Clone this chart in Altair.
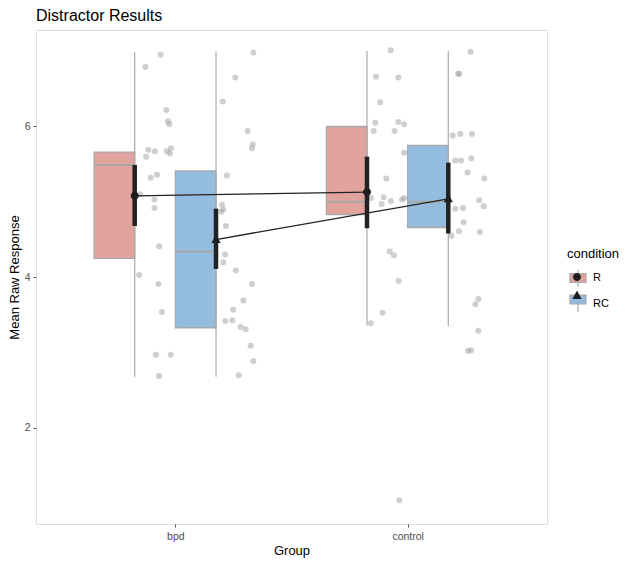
import json
import altair as alt
import pandas as pd

# ---------------- data ----------------
groups = ["bpd", "control"]
conditions = ["R", "RC"]

box_group = ["bpd", "bpd", "control", "control"]
box_cond = ["R", "RC", "R", "RC"]
box_q1 = [4.25, 3.33, 4.83, 4.66]
box_median = [5.49, 4.34, 5.00, 5.00]
box_q3 = [5.66, 5.41, 6.00, 5.75]
whisker_lo = [2.68, 2.68, 3.36, 3.35]
whisker_hi = [6.99, 6.99, 7.00, 7.00]
mean_val = [5.08, 4.50, 5.13, 5.04]
ci_lo = [4.68, 4.11, 4.65, 4.58]
ci_hi = [5.49, 4.91, 5.60, 5.52]

# raw responses (jittered points) and their horizontal jitter
bpd_R = [6.95, 6.79, 6.22, 6.07, 6.03, 5.69, 5.67, 5.60, 5.67, 5.71, 5.64, 5.36,
         5.32, 5.10, 5.03, 4.92, 4.41, 4.03, 3.91, 3.54, 2.97, 2.97, 2.69]
bpd_R_jit = [0.111, 0.046, 0.136, 0.143, 0.149, 0.059, 0.087, 0.049, 0.138, 0.156,
             0.152, 0.096, 0.069, 0.023, 0.085, 0.085, 0.105, 0.019, 0.102, 0.117,
             0.091, 0.155, 0.105]
bpd_RC = [6.98, 6.65, 6.33, 5.94, 5.76, 5.71, 5.35, 4.96, 4.90, 4.87, 4.68, 4.30,
          4.20, 4.09, 3.91, 3.69, 3.57, 3.42, 3.43, 3.34, 3.31, 3.09, 2.89, 2.70]
bpd_RC_jit = [0.161, 0.083, 0.029, 0.136, 0.158, 0.155, 0.047, 0.026, 0.031, 0.023,
              0.043, 0.039, 0.031, 0.085, 0.155, 0.118, 0.074, 0.040, 0.070, 0.106,
              0.128, 0.149, 0.161, 0.098]
control_R = [7.01, 6.66, 6.65, 6.32, 6.05, 6.06, 6.03, 5.94, 5.94, 5.65, 5.31, 5.05,
             5.06, 5.01, 4.97, 5.03, 5.05, 4.34, 4.29, 3.95, 3.53, 3.39, 1.04]
control_R_jit = [0.102, 0.039, 0.135, 0.057, 0.036, 0.135, 0.160, 0.029, 0.119, 0.160,
                 0.083, 0.017, 0.072, 0.103, 0.063, 0.151, 0.160, 0.098, 0.116, 0.136,
                 0.067, 0.016, 0.139]
control_RC = [6.99, 6.70, 6.70, 5.88, 5.90, 5.90, 5.55, 5.55, 5.58, 5.39, 5.31, 5.02,
              4.94, 4.91, 4.92, 4.73, 4.61, 4.55, 4.60, 3.71, 3.64, 3.29, 3.02, 3.03]
control_RC_jit = [0.096, 0.042, 0.047, 0.019, 0.052, 0.102, 0.030, 0.055, 0.099, 0.083,
                  0.155, 0.133, 0.152, 0.030, 0.063, 0.066, 0.046, 0.014, 0.136, 0.130,
                  0.117, 0.129, 0.085, 0.098]

# ---------------- tables ----------------
summary = pd.DataFrame({
    "group": box_group, "condition": box_cond,
    "q1": box_q1, "median": box_median, "q3": box_q3,
    "lo": whisker_lo, "hi": whisker_hi,
    "mean": mean_val, "ci_lo": ci_lo, "ci_hi": ci_hi,
})
summary["cond_w"] = summary["condition"]
summary["cond_m"] = summary["condition"]

rows = []
for g, c, vals, jit in [("bpd", "R", bpd_R, bpd_R_jit), ("bpd", "RC", bpd_RC, bpd_RC_jit),
                        ("control", "R", control_R, control_R_jit),
                        ("control", "RC", control_RC, control_RC_jit)]:
    for v, j in zip(vals, jit):
        rows.append({"group": g, "condition": c, "value": v, "jit": j})
points = pd.DataFrame(rows)

DODGE = 0.175
pos_expr = (f"indexof({json.dumps(groups)}, datum.group) + 1 + "
            f"(datum.condition == '{conditions[0]}' ? -{DODGE} : {DODGE})")

FONT = "Liberation Sans"
xscale = alt.Scale(domain=[0.4, 2.6], nice=False, zero=False)
yscale = alt.Scale(domain=[0.726, 7.28], nice=False, zero=False)

xaxis = alt.Axis(values=[1, 2], labelExpr=f"{json.dumps(groups)}[datum.value - 1]",
                 title="Group", grid=False, domain=False, tickColor="#555555",
                 tickSize=3, labelColor="#4D4D4D", labelFontSize=10.5, labelPadding=4,
                 titleFontSize=13, titleColor="black", titleFontWeight="normal",
                 titlePadding=3, labelFont=FONT, titleFont=FONT)
yaxis = alt.Axis(values=[2, 4, 6], format="d", title="Mean Raw Response", grid=False,
                 domain=False, tickColor="#555555", tickSize=3, labelColor="#4D4D4D",
                 labelFontSize=10.5, labelPadding=3, titleFontSize=13,
                 titleColor="black", titleFontWeight="normal", titlePadding=3,
                 labelFont=FONT, titleFont=FONT)

LEG_X, LEG_Y = 531, 218
leg_common = dict(orient="none", legendX=LEG_X, legendY=LEG_Y,
                  symbolSize=400, rowPadding=3.5, labelFontSize=11, labelColor="black",
                  titleFontSize=13, titleColor="black", titleFontWeight="normal",
                  titlePadding=6, labelFont=FONT, titleFont=FONT, labelOffset=4,
                  padding=0)

circle_path = "M0.4,0A0.4,0.4,0,1,1,-0.4,0A0.4,0.4,0,1,1,0.4,0Z"
tri_path = "M0,-0.5L0.46,0.35L-0.46,0.35Z"

base_s = alt.Chart(summary).transform_calculate(pos=pos_expr)

whiskers = base_s.mark_rule(strokeWidth=1.2).encode(
    x=alt.X("pos:Q", scale=xscale, axis=xaxis),
    y=alt.Y("lo:Q", scale=yscale, axis=yaxis),
    y2="hi:Q",
    stroke=alt.Stroke("cond_w:N", scale=alt.Scale(range=["#ABABAB", "#ABABAB"]),
                      legend=alt.Legend(title="condition",
                                        symbolType="M0,-0.85L0,0.85",
                                        symbolStrokeWidth=1.2,
                                        symbolStrokeColor="#ABABAB", **leg_common)),
)

boxes = base_s.transform_calculate(left=f"datum.pos - {DODGE}").mark_rect(
    stroke="#A9A9A9", strokeWidth=1.3).encode(
    x=alt.X("left:Q", scale=xscale),
    x2="pos:Q",
    y=alt.Y("q1:Q", scale=yscale),
    y2="q3:Q",
    fill=alt.Fill("condition:N", scale=alt.Scale(range=["#E0A39E", "#94BCDE"]),
                  legend=alt.Legend(title=" ", labelExpr="''",
                                    symbolType="M-0.8,-0.45H0.8V0.45H-0.8Z",
                                    symbolStrokeColor="#A9A9A9", symbolStrokeWidth=1.2,
                                    **leg_common)),
)

medians = base_s.transform_calculate(left=f"datum.pos - {DODGE}").mark_rule(
    color="#A8A8A8", strokeWidth=2).encode(
    x=alt.X("left:Q", scale=xscale),
    x2="pos:Q",
    y=alt.Y("median:Q", scale=yscale),
)

jitter = alt.Chart(points).transform_calculate(pos=pos_expr).transform_calculate(
    px="datum.pos + datum.jit").mark_circle(size=36, color="#A0A0A0", opacity=0.5).encode(
    x=alt.X("px:Q", scale=xscale),
    y=alt.Y("value:Q", scale=yscale),
)

mean_lines = base_s.mark_line(color="#222222", strokeWidth=1.3).encode(
    x=alt.X("pos:Q", scale=xscale),
    y=alt.Y("mean:Q", scale=yscale),
    detail="condition:N",
    order="pos:Q",
)

errbars = base_s.mark_rule(color="#222222", strokeWidth=4.5).encode(
    x=alt.X("pos:Q", scale=xscale),
    y=alt.Y("ci_lo:Q", scale=yscale),
    y2="ci_hi:Q",
)

mean_pts = base_s.mark_point(filled=True, color="#1E1E1E", size=400, opacity=1).encode(
    x=alt.X("pos:Q", scale=xscale),
    y=alt.Y("mean:Q", scale=yscale),
    shape=alt.Shape("cond_m:N", scale=alt.Scale(range=[circle_path, tri_path]),
                    legend=alt.Legend(title=" ", labelExpr="''",
                                      symbolFillColor="#1E1E1E", symbolStrokeWidth=0,
                                      **leg_common)),
)

chart = alt.layer(whiskers, boxes, medians, jitter, mean_lines, errbars, mean_pts).properties(
    width=511, height=494,
    autosize=alt.AutoSizeParams(type="none"),
    padding={"left": 28, "top": 22, "right": 82, "bottom": 36},
    title=alt.Title("Distractor Results", anchor="start", frame="group", fontSize=16,
                    fontWeight="normal", color="black", font=FONT, offset=6),
).configure_view(stroke="#7F7F7F", strokeWidth=1).configure(background="white")

chart.save("out.html", embed_options={"renderer": "svg", "actions": False})
